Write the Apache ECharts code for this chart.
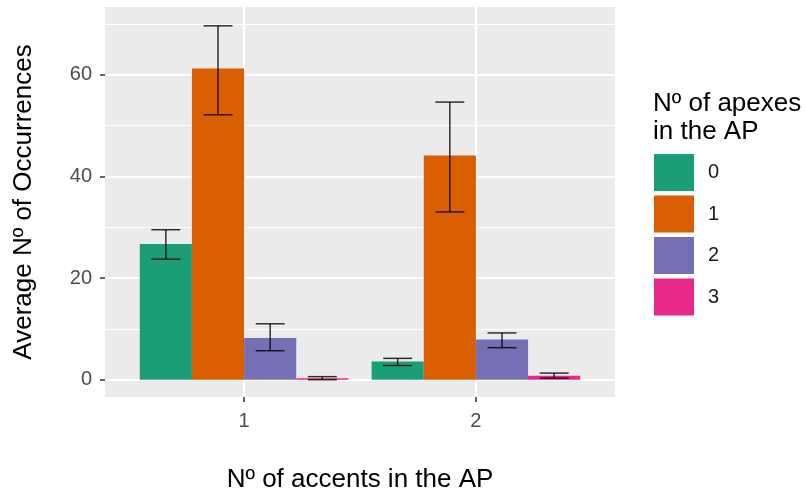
<!DOCTYPE html>
<html>
<head>
<meta charset="utf-8">
<script src="https://cdn.jsdelivr.net/npm/echarts@6/dist/echarts.min.js"></script>
<style>
html, body { margin: 0; padding: 0; background: #ffffff; }
#chart { width: 806px; height: 495px; }
</style>
</head>
<body>
<div id="chart"></div>
<script>
// Number of accents in the AP (x categories)
const accents = [1, 2];
// Number of apexes in the AP (fill groups)
const apexes = ['0', '1', '2', '3'];

// Average occurrences per group, one value per accent count
const mean0 = [26.7, 3.6];
const mean1 = [61.2, 44.1];
const mean2 = [8.2, 7.9];
const mean3 = [0.3, 0.8];

// Error bar limits
const low0 = [23.7, 2.8];
const high0 = [29.5, 4.2];
const low1 = [52.1, 33.0];
const high1 = [69.6, 54.6];
const low2 = [5.7, 6.3];
const high2 = [11.0, 9.2];
const low3 = [0.0, 0.3];
const high3 = [0.6, 1.3];

// Axis ticks
const yTicks = [0, 20, 40, 60];
const yMinorTicks = [10, 30, 50, 70];
const xTicks = [1, 2];

const means = [mean0, mean1, mean2, mean3];
const lows = [low0, low1, low2, low3];
const highs = [high0, high1, high2, high3];
const palette = ['#1B9E77', '#D95F02', '#7570B3', '#E7298A'];

const FONT = '"Liberation Sans", Arial, sans-serif';
const DODGE = 0.9;
const BAR_W = DODGE / apexes.length;
const CAP_W = 0.125;

function offsetFor(k) {
  return (k - (apexes.length - 1) / 2) * BAR_W;
}

function barRenderer(k) {
  return function (params, api) {
    const c = api.value(0) + offsetFor(k);
    const top = api.coord([c - BAR_W / 2, api.value(1)]);
    const base = api.coord([c + BAR_W / 2, 0]);
    return {
      type: 'rect',
      shape: { x: top[0], y: top[1], width: base[0] - top[0], height: base[1] - top[1] },
      style: { fill: api.visual('color') }
    };
  };
}

function errRenderer(k) {
  return function (params, api) {
    const c = api.value(0) + offsetFor(k);
    const lo = api.coord([c, api.value(1)]);
    const hi = api.coord([c, api.value(2)]);
    const l = api.coord([c - CAP_W / 2, api.value(1)])[0];
    const r = api.coord([c + CAP_W / 2, api.value(1)])[0];
    const style = { stroke: 'rgba(0,0,0,0.8)', lineWidth: 1.5 };
    return {
      type: 'group',
      children: [
        { type: 'line', shape: { x1: lo[0], y1: lo[1], x2: hi[0], y2: hi[1] }, style },
        { type: 'line', shape: { x1: l, y1: lo[1], x2: r, y2: lo[1] }, style },
        { type: 'line', shape: { x1: l, y1: hi[1], x2: r, y2: hi[1] }, style }
      ]
    };
  };
}

const series = [];
apexes.forEach(function (name, k) {
  series.push({
    type: 'custom',
    name: name,
    color: palette[k],
    renderItem: barRenderer(k),
    encode: { x: 0, y: 1 },
    data: accents.map(function (a, i) { return [a, means[k][i]]; }),
    z: 2
  });
});
apexes.forEach(function (name, k) {
  series.push({
    type: 'custom',
    name: 'err' + name,
    renderItem: errRenderer(k),
    encode: { x: 0, y: [1, 2] },
    data: accents.map(function (a, i) { return [a, lows[k][i], highs[k][i]]; }),
    z: 3
  });
});

const chart = echarts.init(document.getElementById('chart'), null, { renderer: 'canvas' });
chart.setOption({
  animation: false,
  color: palette,
  textStyle: { fontFamily: FONT },
  grid: {
    left: 105, right: 191, top: 7, bottom: 98,
    outerBoundsMode: 'none',
    containLabel: false,
    show: true, backgroundColor: '#EBEBEB', borderWidth: 0
  },
  title: {
    text: 'Nº of apexes\nin the AP',
    left: 653, top: 90, padding: 0,
    textStyle: { fontFamily: FONT, fontSize: 26, fontWeight: 'normal', color: '#000', lineHeight: 28 }
  },
  legend: {
    data: apexes,
    orient: 'vertical',
    left: 654, top: 154, padding: 0,
    itemWidth: 40, itemHeight: 37, itemGap: 4.5,
    icon: 'rect',
    textStyle: { fontFamily: FONT, fontSize: 20, color: '#1a1a1a', padding: [0, 0, 0, 9] }
  },
  xAxis: {
    type: 'value',
    min: 0.4, max: 2.6,
    name: 'Nº of accents in the AP',
    nameLocation: 'middle',
    nameGap: 70,
    nameTextStyle: { fontFamily: FONT, fontSize: 26, color: '#000' },
    axisLine: { show: false, onZero: false },
    axisTick: { show: true, customValues: xTicks, length: 5, lineStyle: { color: '#333', width: 1.5 } },
    axisLabel: { customValues: xTicks, fontSize: 20, color: '#4D4D4D', margin: 14 },
    splitLine: { show: true, lineStyle: { color: '#ffffff', width: 2 } }
  },
  yAxis: [
    {
      type: 'value',
      min: -3.4, max: 73.3,
      name: 'Average Nº of Occurrences',
      nameLocation: 'middle',
      nameGap: 68,
      nameTextStyle: { fontFamily: FONT, fontSize: 26, color: '#000' },
      axisLine: { show: false, onZero: false },
      axisTick: { show: true, customValues: yTicks, length: 5, lineStyle: { color: '#333', width: 1.5 } },
      axisLabel: { customValues: yTicks, fontSize: 20, color: '#4D4D4D', margin: 13 },
      splitLine: { show: true, lineStyle: { color: '#ffffff', width: 2 } }
    },
    {
      type: 'value',
      min: -3.4, max: 73.3,
      position: 'left',
      axisLine: { show: false, onZero: false },
      axisTick: { show: false, customValues: yMinorTicks },
      axisLabel: { show: false, customValues: yMinorTicks },
      splitLine: { show: true, lineStyle: { color: '#ffffff', width: 1 } }
    }
  ],
  series: series
});
</script>
</body>
</html>
